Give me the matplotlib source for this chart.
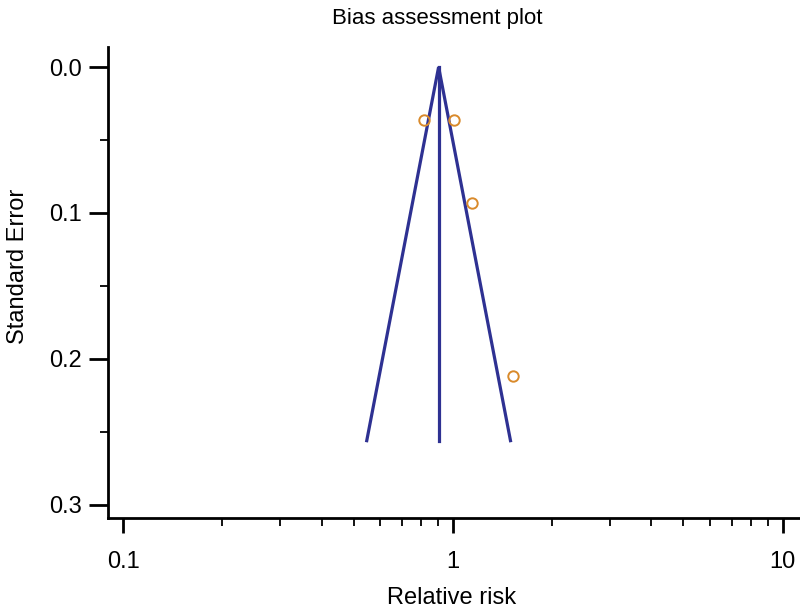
import numpy as np
import matplotlib
matplotlib.use("Agg")
import matplotlib.pyplot as plt
from matplotlib.ticker import FixedLocator, NullFormatter, MultipleLocator

plt.rcParams['font.family'] = ['Liberation Sans', 'DejaVu Sans']

# study estimates (relative risk) and their standard errors
rr = [0.82, 1.01, 1.14, 1.52]
se = [0.036, 0.036, 0.093, 0.212]

# pooled estimate and funnel depth
pooled = 0.905
se_max = 0.256

fig = plt.figure(figsize=(8, 6.09), dpi=100)
ax = fig.add_axes([0.135, 0.1494, 0.87, 0.7734])

blue = '#2e3192'
orange = '#d98a2b'

lo = np.exp(np.log(pooled) - 1.96 * se_max)
hi = np.exp(np.log(pooled) + 1.96 * se_max)
ax.plot([lo, pooled, hi], [se_max, 0, se_max], color=blue, lw=2.3, solid_joinstyle='miter')
ax.plot([pooled, pooled], [0, se_max], color=blue, lw=2.3)
ax.plot(rr, se, 'o', mfc='none', mec=orange, mew=1.4, ms=7.5, ls='none')

ax.set_xscale('log')
ax.set_xlim(0.09, 11.6)
ax.set_ylim(0.309, -0.0137)

ax.xaxis.set_major_locator(FixedLocator([0.1, 1, 10]))
ax.set_xticklabels(['0.1', '1', '10'])
ax.xaxis.set_minor_locator(FixedLocator([k * 10.0**e for e in (-1, 0) for k in range(2, 10)]))
ax.xaxis.set_minor_formatter(NullFormatter())
ax.yaxis.set_major_locator(FixedLocator([0.0, 0.1, 0.2, 0.3]))
ax.set_yticklabels(['0.0', '0.1', '0.2', '0.3'])
ax.yaxis.set_minor_locator(MultipleLocator(0.05))

for s in ['top', 'right']:
    ax.spines[s].set_visible(False)
for s in ['left', 'bottom']:
    ax.spines[s].set_linewidth(2)

ax.tick_params(which='major', length=11, width=2, labelsize=17)
ax.tick_params(which='minor', length=6, width=1.3)
ax.tick_params(axis='y', which='major', length=14, pad=5)
ax.tick_params(axis='x', which='major', pad=13)

fig.text(0.546, 0.97, 'Bias assessment plot', ha='center', va='center', fontsize=16)
fig.text(0.565, 0.018, 'Relative risk', ha='center', va='center', fontsize=17)
fig.text(0.023, 0.562, 'Standard Error', ha='center', va='center', rotation=90, fontsize=17)

fig.savefig('out.png', dpi=100)
